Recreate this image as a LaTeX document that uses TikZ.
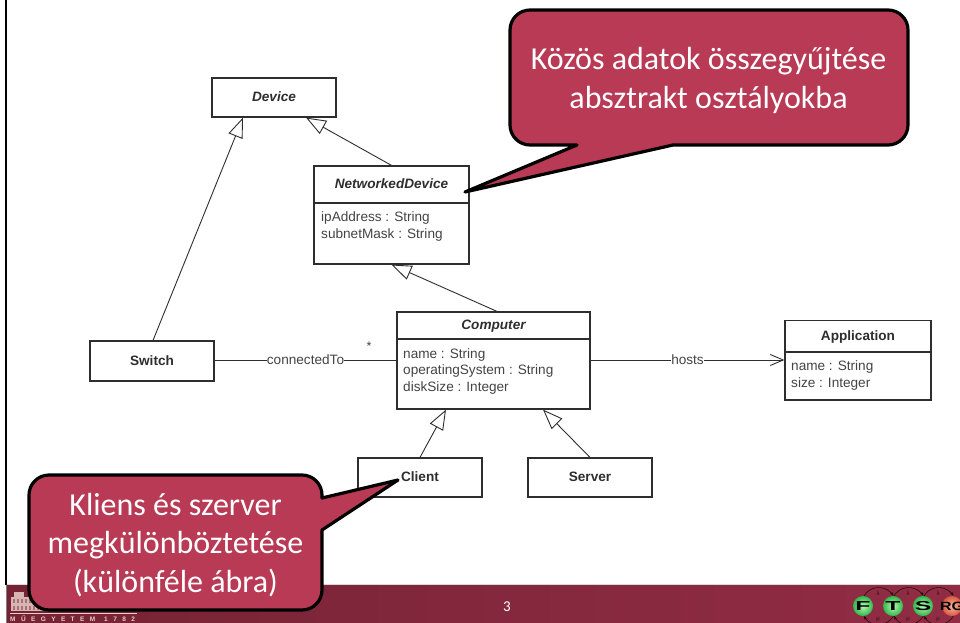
\documentclass[tikz,border=0pt]{standalone}
\usepackage{fontspec}
\setmainfont{Liberation Sans}
\newfontfamily\calloutfont{Carlito}
\newfontfamily\spacedfont[LetterSpace=83]{Liberation Sans}
\usetikzlibrary{arrows.meta,shadings}
\definecolor{calloutred}{HTML}{B83A55}
\definecolor{footl}{HTML}{752334}
\definecolor{footr}{HTML}{922C45}
\definecolor{umlink}{HTML}{2E2E2E}
\definecolor{attrink}{HTML}{444444}
\definecolor{pale}{HTML}{E8CFC8}
\definecolor{ballout}{HTML}{2FB84A}
\definecolor{ballin}{HTML}{B8F8B0}
\definecolor{rgout}{HTML}{D8583F}
\definecolor{rgin}{HTML}{F8B8A0}
\tikzset{
  x=1pt,y=-1pt,
  umlbox/.style={draw=umlink,line width=1.2pt,fill=white,inner sep=0pt,text height=8.5pt,text depth=0pt,font=\fontsize{13.6}{15}\selectfont\bfseries,text=umlink},
  abstract/.style={umlbox,font=\fontsize{13.6}{15}\selectfont\bfseries\itshape},
  attrs/.style={anchor=north west,inner sep=0pt,align=left,font=\fontsize{13.6}{16.5}\selectfont,text=attrink},
  gen/.style={draw=umlink,line width=0.9pt,-{Triangle[open,length=20pt,width=15pt,fill=white]}},
  assoc/.style={draw=umlink,line width=0.9pt},
  navig/.style={assoc,-{Straight Barb[length=13pt,width=11pt]}},
  linklabel/.style={fill=white,inner sep=0pt,font=\fontsize{13.6}{15}\selectfont,text=attrink},
  callout/.style={draw=black,line width=3.2pt,fill=calloutred,line join=round},
  callouttext/.style={text=white,align=center,font=\calloutfont\fontsize{32}{38.5}\selectfont,inner sep=0pt},
  fball/.style={circle,minimum size=20pt,inner sep=0pt,inner color=ballin,outer color=ballout,draw=none},
  rgball/.style={circle,minimum size=20pt,inner sep=0pt,inner color=rgin,outer color=rgout,draw=none},
  balltext/.style={inner sep=0pt,font=\fontsize{13}{13}\selectfont\bfseries,xscale=1.9},
  loopline/.style={draw=black!70!footl,line width=0.6pt},
  loopglyph/.style={inner sep=0pt,text=black!60!footl,font=\fontsize{6}{6}\selectfont},
}
\begin{document}
\begin{tikzpicture}
\useasboundingbox (0,0) rectangle (960,623);
\clip (0,0) rectangle (960,623);
\fill[white] (0,0) rectangle (960,623);
% footer
\shade[left color=footl,right color=footr] (7,585) rectangle (960,623);
\draw[white!85!black,line width=0.8pt] (7,584.6) -- (960,584.6);
\draw[black,line width=2pt] (6,0) -- (6,585);
\draw[black!50,line width=1pt] (6,585) -- (6,623);
% university mark
\fill[pale!85!footl] (11,597) rectangle (47,611);
\fill[pale!85!footl] (14,592) rectangle (24,598);
\foreach \xx in {13,17,...,45}{\fill[pale!45!footl] (\xx,599) rectangle (\xx+1.6,603);\fill[pale!45!footl] (\xx,606) rectangle (\xx+1.6,610);}
\draw[pale,line width=0.7pt] (10,613.4) -- (137,613.4);
\node[anchor=west,inner sep=0pt,text=pale] (univ) at (10,618.5) {\spacedfont\fontsize{6.5}{6.5}\selectfont\bfseries MŰEGYETEM\hspace{9pt}1782};
\node[text=white,inner sep=0pt,font=\calloutfont\fontsize{15}{15}\selectfont] (pagenum) at (507,606.5) {3};
% logo rings
\foreach \cx in {863,893,923}{
  \draw[loopline,-{Stealth[length=4pt,width=3pt]}] (\cx+1,596) arc[start angle=-150,end angle=-30,radius=17];
  \draw[loopline,{Stealth[length=4pt,width=3pt]}-] (\cx+1,616) arc[start angle=150,end angle=30,radius=17];
  \node[loopglyph] at (\cx+15,593) {λ};
  \node[loopglyph] at (\cx+15,619) {μ};
}
\node[fball] (lf) at (863,606) {};
\node[fball] (lt) at (893,606) {};
\node[fball] (ls) at (923,606) {};
\node[rgball] (lr) at (952,606) {};
\node[balltext] at (lf) {F};
\node[balltext] at (lt) {T};
\node[balltext] at (ls) {S};
\node[balltext,font=\fontsize{12}{12}\selectfont\bfseries,xscale=0.7] at (lr) {RG};
% classes
\node[abstract,minimum width=124pt,minimum height=39pt] (device) at (274,97.5) {Device};
\node[abstract,minimum width=155pt,minimum height=37pt] (nd) at (391.5,184.5) {NetworkedDevice};
\node[umlbox,minimum width=155pt,minimum height=61pt] (ndattr) at (391.5,233.5) {};
\node[attrs] (ndtext) at (321,211.5) {ipAddress : String\\subnetMask : String};
\node[abstract,minimum width=193pt,minimum height=27pt] (comp) at (493.5,325.5) {Computer};
\node[umlbox,minimum width=193pt,minimum height=70pt] (compattr) at (493.5,374) {};
\node[attrs] (comptext) at (403,348) {name : String\\operatingSystem : String\\diskSize : Integer};
\node[umlbox,minimum width=124pt,minimum height=40pt] (switch) at (152,361) {Switch};
\node[umlbox,minimum width=146pt,minimum height=31.5pt] (app) at (858,336.25) {Application};
\node[umlbox,minimum width=146pt,minimum height=48pt] (appattr) at (858,376) {};
\node[attrs] (apptext) at (791,360.5) {name : String\\size : Integer};
\node[umlbox,minimum width=124pt,minimum height=39pt] (client) at (420,477.5) {Client};
\node[umlbox,minimum width=124pt,minimum height=39pt] (server) at (590,477.5) {Server};
% generalisations
\draw[gen] ([xshift=1pt]switch.north) -- ([xshift=-31pt]device.south);
\draw[gen] (nd.north) -- ([xshift=32pt]device.south);
\draw[gen] ([xshift=3.5pt]comp.north) -- (ndattr.south);
\draw[gen] (client.north) -- ([xshift=-47.5pt]compattr.south);
\draw[gen] (server.north) -- ([xshift=49.5pt]compattr.south);
% associations
\draw[assoc] (switch.east) ++(0,-1) coordinate (swout) -- (swout -| compattr.west) node[linklabel,pos=0.5] (conn) {connectedTo};
\node[inner sep=0pt,font=\fontsize{12.5}{12}\selectfont,text=attrink] (star) at (369,346) {*};
\draw[navig] (compattr.east |- swout) -- (swout -| appattr.west) node[linklabel,pos=0.5] (hosts) {hosts};
% callouts
\draw[callout] (577,145) -- (530,145) .. controls (519,145) and (510,136) .. (510,125) -- (510,30) .. controls (510,19) and (519,10) .. (530,10) -- (888,10) .. controls (899,10) and (908,19) .. (908,30) -- (908,125) .. controls (908,136) and (899,145) .. (888,145) -- (673,145) -- (465,192) -- cycle;
\node[callouttext] (ctop) at (708.5,80.5) {Közös adatok összegyűjtése\\abszt\-rakt osztályokba};
\draw[callout] (322,498) -- (322,495) .. controls (322,484) and (313,475) .. (302,475) -- (49,475) .. controls (38,475) and (29,484) .. (29,495) -- (29,590) .. controls (29,601) and (38,610) .. (49,610) -- (302,610) .. controls (313,610) and (322,601) .. (322,590) -- (322,530) -- (398,480) -- cycle;
\node[callouttext] (cbot) at (175.5,545) {Kliens és szerver\\megkülönböztetése\\(különféle ábra)};
\end{tikzpicture}
\end{document}
